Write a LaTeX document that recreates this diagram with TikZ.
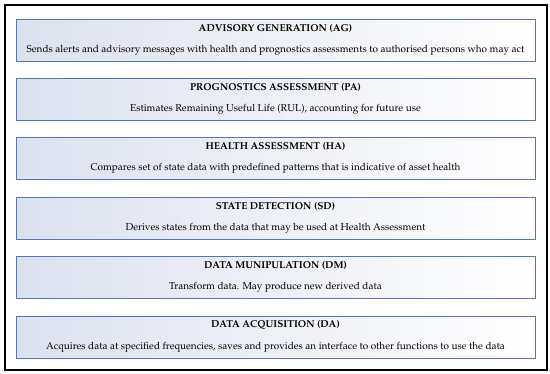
\documentclass[tikz,border=0pt]{standalone}
\usepackage[T1]{fontenc}
\usepackage{mathpazo}
\begin{document}
\begin{tikzpicture}[x=1pt,y=-1pt,
  layerbox/.style={draw=boxblue, line width=1pt, left color=boxleft, right color=white,
    minimum width=519pt, minimum height=42pt, inner sep=0pt, anchor=north},
  layertitle/.style={font=\fontsize{10}{12}\selectfont\bfseries, inner sep=0pt},
  layerbody/.style={font=\fontsize{10}{12}\selectfont, inner sep=0pt}]
\definecolor{boxblue}{HTML}{5575B5}
\definecolor{boxleft}{HTML}{DCE1EF}
\useasboundingbox (0,0) rectangle (550,374);
\node[draw=black, line width=1.6pt, minimum width=542pt, minimum height=365pt, inner sep=0pt, anchor=north west] (frame) at (4,4) {};
\foreach \nm/\top/\ttl/\bdy in {
  ag/19/{ADVISORY GENERATION (AG)}/{Sends alerts and advisory messages with health and prognostics assessments to authorised persons who may act},
  pa/78/{PROGNOSTICS ASSESSMENT (PA)}/{Estimates Remaining Useful Life (RUL), accounting for future use},
  ha/137.5/{HEALTH ASSESSMENT (HA)}/{Compares set of state data with predefined patterns that is indicative of asset health},
  sd/197/{STATE DETECTION (SD)}/{Derives states from the data that may be used at Health Assessment},
  dm/256.5/{DATA MUNIPULATION (DM)}/{Transform data. May produce new derived data},
  da/316/{DATA ACQUISITION (DA)}/{Acquires data at specified frequencies, saves and provides an interface to other functions to use the data}}
{
  \node[layerbox] (\nm) at (275.5,\top) {};
  \node[layertitle] (\nm-title) at ([yshift=-9pt]\nm.north) {\ttl};
  \node[layerbody] (\nm-body) at ([yshift=-31pt]\nm.north) {\bdy};
}
\end{tikzpicture}
\end{document}
